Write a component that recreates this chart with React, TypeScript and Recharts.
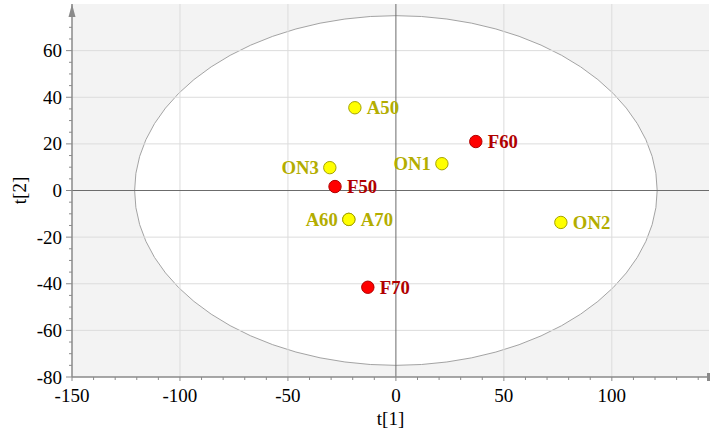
import React from 'react';
import {
  ScatterChart,
  Scatter,
  XAxis,
  YAxis,
  ReferenceArea,
  ReferenceLine,
  ReferenceDot,
} from 'recharts';

// ---- data ----
const yellowNames = ['A50', 'ON3', 'ON1', 'A60', 'A70', 'ON2'];
const yellowT1 = [-19, -30.6, 21.3, -21.8, -21.8, 76.4];
const yellowT2 = [35.5, 9.8, 11.5, -12.4, -12.4, -13.7];

const redNames = ['F50', 'F60', 'F70'];
const redT1 = [-28.2, 37, -13];
const redT2 = [1.7, 21, -41.5];

const xTicks = [-150, -140, -130, -120, -110, -100, -90, -80, -70, -60, -50, -40, -30, -20, -10, 0, 10, 20, 30, 40, 50, 60, 70, 80, 90, 100, 110, 120, 130, 140];
const yTicks = [-80, -75, -70, -65, -60, -55, -50, -45, -40, -35, -30, -25, -20, -15, -10, -5, 0, 5, 10, 15, 20, 25, 30, 35, 40, 45, 50, 55, 60, 65, 70, 75];
const xGrid = [-100, -50, 50, 100];
const yGrid = [-60, -40, -20, 20, 40, 60];

const xDomain = [-150, 145];
const yDomain = [-80, 80];
const ellipseT1 = 121;
const ellipseT2 = 75;

// labels drawn on the left side of their point
const leftLabels = ['ON3', 'ON1', 'A60'];

const yellowData = yellowNames.map((n, i) => ({ name: n, x: yellowT1[i], y: yellowT2[i] }));
const redData = redNames.map((n, i) => ({ name: n, x: redT1[i], y: redT2[i] }));

const FONT = '"Liberation Serif", "Times New Roman", serif';
const AXIS_COLOR = '#8a8a8a';
const tickStyle: React.CSSProperties = { fontFamily: FONT, fontSize: 19, fill: '#000' };

const XTick = (props: any) => {
  const { x, y, payload } = props;
  const v = payload.value;
  const major = v % 50 === 0;
  return (
    <g>
      <line x1={x} x2={x} y1={y} y2={y + (major ? 4 : 3)} stroke={AXIS_COLOR} strokeWidth={1} />
      {major && (
        <text x={x} y={y + 25} textAnchor="middle" style={tickStyle}>
          {String(v)}
        </text>
      )}
    </g>
  );
};

const YTick = (props: any) => {
  const { x, y, payload } = props;
  const v = payload.value;
  const major = v % 20 === 0;
  return (
    <g>
      <line x1={x} x2={x - (major ? 6 : 3)} y1={y} y2={y} stroke={AXIS_COLOR} strokeWidth={1} />
      {major && (
        <text x={x - 10} y={y + 6.5} textAnchor="end" style={tickStyle}>
          {String(v)}
        </text>
      )}
    </g>
  );
};

const makeShape = (fill: string, stroke: string, textColor: string) => (p: any) => {
  const { cx, cy } = p;
  const name = p.payload?.name ?? p.name;
  const left = leftLabels.includes(name);
  return (
    <g>
      <circle cx={cx} cy={cy} r={6.2} fill={fill} stroke={stroke} strokeWidth={1} />
      <text
        x={left ? cx - 11 : cx + 12}
        y={cy + 6.5}
        textAnchor={left ? 'end' : 'start'}
        style={{ fontFamily: FONT, fontSize: 18.7, fontWeight: 'bold', fill: textColor }}
      >
        {name}
      </text>
    </g>
  );
};

const yellowShape = makeShape('#ffff00', '#a5a300', '#b3ad00');
const redShape = makeShape('#ff0000', '#b00000', '#b00000');

export default function App() {
  return (
    <div style={{ position: 'absolute', left: 0, top: 0 }}>
      <ScatterChart width={710} height={437} margin={{ top: 4, right: 1, bottom: 0, left: 0 }}>
        <XAxis
          type="number"
          dataKey="x"
          domain={xDomain}
          ticks={xTicks}
          interval={0}
          allowDataOverflow
          height={60}
          tickSize={0}
          tickMargin={0}
          tickLine={false}
          axisLine={{ stroke: AXIS_COLOR, strokeWidth: 1.5 }}
          tick={<XTick />}
          label={(p: any) => {
            const vb = p.viewBox || {};
            return (
              <text x={vb.x + vb.width / 2} y={425} textAnchor="middle" style={tickStyle}>
                t[1]
              </text>
            );
          }}
        />
        <YAxis
          type="number"
          dataKey="y"
          domain={yDomain}
          ticks={yTicks}
          interval={0}
          allowDataOverflow
          width={72}
          tickSize={0}
          tickMargin={0}
          tickLine={false}
          axisLine={{ stroke: AXIS_COLOR, strokeWidth: 1.5 }}
          tick={<YTick />}
          label={(p: any) => {
            const vb = p.viewBox || {};
            const cy = vb.y + vb.height / 2;
            return (
              <text x={26} y={cy} transform={`rotate(-90, 26, ${cy})`} textAnchor="middle" style={tickStyle}>
                t[2]
              </text>
            );
          }}
        />
        <ReferenceArea x1={xDomain[0]} x2={xDomain[1]} y1={yDomain[0]} y2={yDomain[1]} fill="#f3f3f3" fillOpacity={1} stroke="none" ifOverflow="visible" />
        <ReferenceArea
          x1={-ellipseT1}
          x2={ellipseT1}
          y1={-ellipseT2}
          y2={ellipseT2}
          shape={(p: any) => (
            <ellipse
              cx={p.x + p.width / 2}
              cy={p.y + p.height / 2}
              rx={Math.abs(p.width) / 2}
              ry={Math.abs(p.height) / 2}
              fill="#ffffff"
              stroke="#a3a3a3"
              strokeWidth={1}
            />
          )}
        />
        {xGrid.map((v) => (
          <ReferenceLine key={'xg' + v} x={v} stroke="#dcdcdc" strokeWidth={1} />
        ))}
        {yGrid.map((v) => (
          <ReferenceLine key={'yg' + v} y={v} stroke="#dcdcdc" strokeWidth={1} />
        ))}
        <ReferenceLine x={0} stroke="#6c6c6c" strokeWidth={1} />
        <ReferenceLine y={0} stroke="#6c6c6c" strokeWidth={1} />
        <ReferenceDot
          x={xDomain[0]}
          y={yDomain[1]}
          ifOverflow="visible"
          shape={(p: any) => (
            <path d={`M${p.cx},${p.cy} L${p.cx - 3.5},${p.cy + 13} L${p.cx + 3.5},${p.cy + 13} Z`} fill={AXIS_COLOR} />
          )}
        />
        <ReferenceDot
          x={xDomain[1]}
          y={yDomain[0]}
          ifOverflow="visible"
          shape={(p: any) => <rect x={p.cx - 2} y={p.cy - 4} width={3} height={8} fill={AXIS_COLOR} />}
        />
        <Scatter data={yellowData} isAnimationActive={false} shape={yellowShape} />
        <Scatter data={redData} isAnimationActive={false} shape={redShape} />
      </ScatterChart>
    </div>
  );
}
